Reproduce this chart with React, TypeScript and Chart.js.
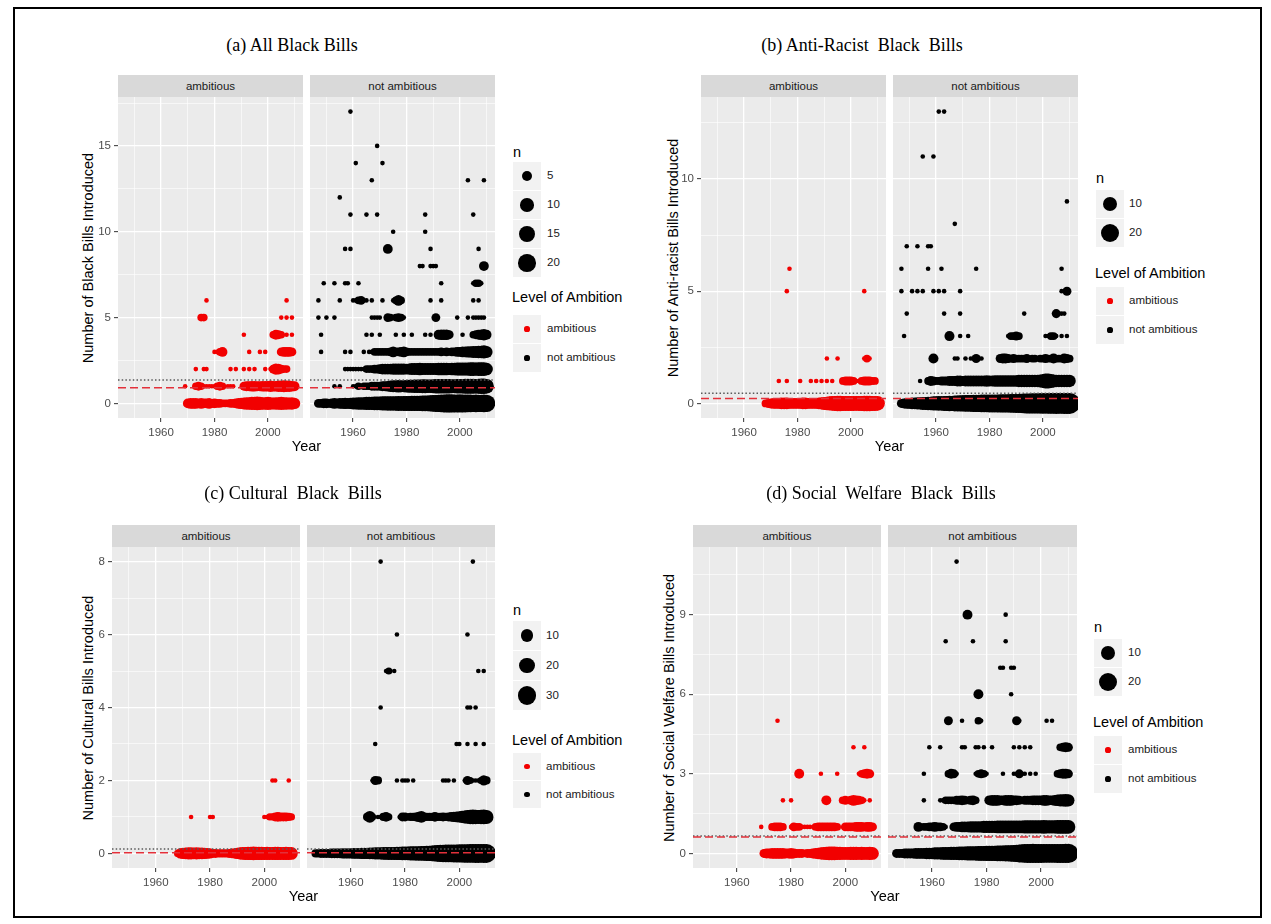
import React, { useEffect, useRef } from "react";
import { Chart, registerables } from "chart.js";

Chart.register(...registerables);

// Row = [number of bills introduced, first year, number of legislators (n) for consecutive years; 0 = no point]
type Row = [number, number, number[]];

// ---------------- shared axis data ----------------
const yearRange = [1943.85, 2013.15];
const yearMajor = [1960, 1980, 2000];
const yearMinor = [1950, 1970, 1990, 2010];
const ambitionLevels = ["ambitious", "not ambitious"];
const facetLabels = ["ambitious", "not ambitious"];

// ---------------- (a) All Black Bills ----------------
const allAmbitious: Row[] = [
  [0, 1970, [4, 5, 5, 5, 4, 5, 4, 4, 5, 3, 4, 3, 3, 2, 2, 2, 3, 3, 4, 5, 6, 7, 8, 8, 9, 9, 10, 9, 8, 8, 9, 8, 7, 8, 8, 9, 8, 8, 7, 8, 6]],
  [1, 1969, [1]],
  [1, 1973, [2, 3, 2, 1, 1, 1, 1, 1, 2, 3, 2, 0, 1, 1, 1]],
  [1, 1991, [3, 4, 4, 5, 5, 4, 4, 5, 5, 5, 6, 5, 5, 6, 6, 7, 6, 6, 5, 4]],
  [2, 1973, [1]],
  [2, 1976, [1, 1]],
  [2, 1986, [1, 0, 1, 0, 0, 1, 0, 1, 0, 1]],
  [2, 1999, [1, 0, 1, 3, 6, 5, 3, 2, 2]],
  [3, 1980, [1, 1, 2, 4]],
  [3, 1993, [1]],
  [3, 1997, [1, 0, 1]],
  [3, 2005, [3, 4, 4, 4, 3]],
  [4, 1991, [1]],
  [4, 2002, [2, 4, 3, 2, 0, 1, 0, 1]],
  [5, 1975, [2, 2]],
  [5, 2005, [1, 0, 1, 0, 1]],
  [6, 1977, [1]],
  [6, 2007, [1]],
];
const allNotAmbitious: Row[] = [
  [0, 1947, [3, 3, 4, 4, 3, 4, 5, 4, 5, 5, 6, 5, 6, 7, 7, 8, 8, 8, 9, 9, 9, 10, 10, 10, 11, 11, 12, 12, 12, 12, 13, 12, 13, 13, 13, 14, 14, 14, 14, 15, 15, 15, 16, 17, 18, 19, 20, 21, 22, 22, 22, 21, 21, 22, 21, 21, 20, 20, 19, 20, 19, 19, 20, 19]],
  [1, 1953, [1, 0, 1]],
  [1, 1960, [1, 1, 2, 1, 2, 2, 2, 3, 3, 3, 3, 4, 4, 5, 6, 7, 7, 8, 7, 7, 8, 9, 9, 10, 10, 10, 11, 11, 10, 10, 11, 12, 12, 12, 12, 12, 12, 11, 11, 12, 12, 12, 13, 13, 13, 13, 12, 13, 14, 14, 12]],
  [2, 1957, [1, 1, 1, 1, 1, 1, 1, 1, 2, 2, 2, 3, 3, 4, 5, 5, 5, 5, 6, 6, 6, 6, 6, 5, 6, 7, 7, 7, 8, 7, 7, 7, 7, 7, 7, 8, 8, 8, 8, 7, 8, 8, 9, 9, 9, 9, 9, 10, 10, 9, 10, 10, 10, 8]],
  [3, 1948, [1]],
  [3, 1957, [1, 0, 1]],
  [3, 1964, [1, 0, 1, 1, 2, 2, 2, 2, 2, 2, 3, 5, 3, 3, 4, 5, 3, 2, 2, 2, 2, 2, 2, 2, 2, 2, 2, 2, 2, 3, 2, 3, 2, 3, 3, 4, 4, 5, 5, 6, 6, 7, 7, 8, 8, 9, 7]],
  [4, 1948, [1]],
  [4, 1965, [1, 0, 1, 0, 0, 1]],
  [4, 1976, [1, 0, 0, 1, 0, 0, 1]],
  [4, 1987, [1, 0, 1, 0, 0, 4, 5, 5, 5, 3, 0, 0, 0, 0, 1, 0, 0, 0, 2, 3, 4, 5, 6, 4]],
  [5, 1947, [1, 0, 0, 1, 0, 0, 1]],
  [5, 1967, [1, 1, 1, 1, 0, 0, 3, 2, 1, 2, 3, 2, 1]],
  [5, 1991, [3]],
  [5, 1999, [1]],
  [5, 2003, [1, 0, 1, 1, 1, 1, 1]],
  [6, 1947, [1]],
  [6, 1955, [1]],
  [6, 1960, [1, 1, 2, 3, 1, 1, 0, 1]],
  [6, 1971, [1]],
  [6, 1975, [1, 2, 5, 2]],
  [6, 1989, [1]],
  [6, 1993, [1]],
  [6, 2005, [1, 0, 1]],
  [7, 1949, [1]],
  [7, 1953, [1]],
  [7, 1957, [1, 1]],
  [7, 1962, [1]],
  [7, 1993, [1]],
  [7, 2005, [1, 2, 2, 1]],
  [8, 1985, [1, 1]],
  [8, 1989, [1, 1, 1]],
  [8, 2009, [4]],
  [9, 1957, [1, 0, 1]],
  [9, 1973, [4]],
  [9, 1989, [1]],
  [9, 2007, [1]],
  [10, 1975, [1]],
  [10, 1987, [1]],
  [11, 1959, [1]],
  [11, 1965, [1]],
  [11, 1969, [1]],
  [11, 1987, [1]],
  [11, 2005, [1]],
  [12, 1955, [1]],
  [13, 1967, [1]],
  [13, 2003, [1]],
  [13, 2009, [1]],
  [14, 1961, [1]],
  [14, 1971, [1]],
  [15, 1969, [1]],
  [17, 1959, [1]],
];
const allMeans = [0.91, 1.36];
const allYRange = [-0.85, 17.85];
const allYMajor = [0, 5, 10, 15];
const allYMinor = [2.5, 7.5, 12.5, 17.5];
const allSizeBreaks = [5, 10, 15, 20];
const allMaxN = 24;

// ---------------- (b) Anti-Racist Black Bills ----------------
const antiAmbitious: Row[] = [
  [0, 1968, [2, 3, 4, 5, 5, 5, 6, 6, 6, 5, 5, 5, 5, 5, 6, 6, 5, 5, 5, 5, 6, 7, 8, 9, 10, 11, 12, 13, 13, 12, 12, 12, 12, 12, 11, 12, 12, 13, 13, 13, 12, 12, 11]],
  [1, 1973, [1, 0, 0, 1]],
  [1, 1981, [1]],
  [1, 1985, [1, 0, 1, 0, 1, 0, 1, 0, 1]],
  [1, 1997, [2, 3, 3, 3, 2, 1, 1, 2, 3, 3, 3, 2, 2]],
  [2, 1991, [1]],
  [2, 1995, [1]],
  [2, 2005, [1, 2, 1]],
  [5, 1976, [1]],
  [5, 2005, [1]],
  [6, 1977, [1]],
];
const antiNotAmbitious: Row[] = [
  [0, 1947, [3, 4, 5, 5, 6, 6, 7, 7, 8, 8, 9, 9, 10, 10, 11, 10, 12, 12, 13, 12, 14, 14, 15, 15, 16, 16, 16, 17, 17, 17, 18, 18, 18, 19, 19, 19, 19, 20, 20, 20, 20, 21, 21, 22, 22, 23, 24, 25, 25, 26, 26, 26, 26, 27, 26, 27, 27, 27, 28, 27, 27, 28, 28, 28]],
  [1, 1954, [1]],
  [1, 1957, [2, 4, 3, 2, 2, 3, 3, 3, 4, 4, 4, 5, 5, 4, 5, 5, 5, 5, 5, 5, 5, 5, 6, 5, 5, 6, 6, 6, 6, 6, 6, 6, 6, 6, 7, 7, 7, 7, 7, 7, 7, 7, 8, 9, 12, 12, 10, 8, 7, 7, 7, 7, 7, 7]],
  [2, 1959, [4]],
  [2, 1967, [1, 1]],
  [2, 1971, [1, 0, 1, 1, 3, 1, 1]],
  [2, 1984, [3, 4, 4, 3, 2, 3, 2, 2, 2, 2, 3, 1, 2, 2, 1, 2, 2, 3, 2, 2, 4, 2, 2, 2, 4, 3, 2]],
  [3, 1948, [1]],
  [3, 1965, [4]],
  [3, 1969, [1]],
  [3, 1972, [1]],
  [3, 1987, [1, 2, 2, 3, 2]],
  [3, 2001, [1, 1, 2, 2, 1, 0, 1, 0, 1]],
  [4, 1949, [1]],
  [4, 1963, [1]],
  [4, 1969, [1]],
  [4, 1993, [1]],
  [4, 2005, [3, 1, 1, 1]],
  [5, 1947, [1]],
  [5, 1951, [1, 0, 1, 0, 1]],
  [5, 1959, [1, 0, 1, 0, 1]],
  [5, 1969, [1]],
  [5, 2007, [1, 0, 3]],
  [6, 1947, [1]],
  [6, 1957, [1]],
  [6, 1962, [1]],
  [6, 1975, [1]],
  [6, 2007, [1]],
  [7, 1949, [1]],
  [7, 1953, [1]],
  [7, 1957, [1, 1]],
  [8, 1967, [1]],
  [9, 2009, [1]],
  [11, 1955, [1]],
  [11, 1959, [1]],
  [13, 1961, [1]],
  [13, 1963, [1]],
];
const antiMeans = [0.22, 0.45];
const antiYRange = [-0.65, 13.65];
const antiYMajor = [0, 5, 10];
const antiYMinor = [2.5, 7.5, 12.5];
const antiSizeBreaks = [10, 20];
const antiMaxN = 28;

// ---------------- (c) Cultural Black Bills ----------------
const culturalAmbitious: Row[] = [
  [0, 1968, [2, 6, 8, 9, 10, 10, 9, 10, 9, 9, 8, 7, 6, 4, 4, 3, 3, 3, 3, 4, 5, 6, 8, 10, 11, 12, 13, 13, 14, 13, 13, 13, 12, 13, 12, 12, 13, 13, 12, 12, 13, 12, 11]],
  [1, 1973, [1]],
  [1, 1980, [1, 1]],
  [1, 2000, [1, 1, 2, 2, 4, 5, 4, 4, 4, 3, 2]],
  [2, 2003, [1, 1]],
  [2, 2009, [1]],
];
const culturalNotAmbitious: Row[] = [
  [0, 1947, [3, 3, 4, 4, 4, 4, 5, 5, 5, 5, 6, 6, 6, 6, 7, 7, 7, 8, 8, 8, 9, 9, 10, 10, 10, 11, 11, 12, 12, 12, 13, 13, 14, 14, 14, 15, 15, 16, 16, 17, 17, 18, 19, 20, 22, 24, 26, 27, 28, 28, 28, 29, 29, 30, 30, 31, 31, 32, 32, 33, 33, 32, 33, 33]],
  [1, 1966, [3, 9, 2, 0, 1, 1, 3, 5, 2]],
  [1, 1978, [1, 4, 4, 2, 3, 3, 4, 6, 9, 4, 3, 3, 3, 5, 3, 3, 4, 3, 4, 5, 6, 7, 8, 10, 12, 14, 16, 17, 16, 15, 16, 17, 15]],
  [2, 1968, [1, 4, 3]],
  [2, 1977, [1, 0, 1, 1, 1, 0, 1]],
  [2, 1994, [1, 1, 1, 0, 1]],
  [2, 2002, [1, 4, 2, 1, 1, 1, 2, 6, 3]],
  [3, 1969, [1]],
  [3, 1999, [1, 1]],
  [3, 2003, [1, 0, 0, 1, 0, 0, 1]],
  [4, 1971, [1]],
  [4, 2003, [1, 1, 0, 1]],
  [5, 1973, [1, 2, 0, 1]],
  [5, 2007, [1, 0, 1]],
  [6, 1977, [1]],
  [6, 2003, [1]],
  [8, 1971, [1]],
  [8, 2005, [1]],
];
const culturalMeans = [0.02, 0.12];
const culturalYRange = [-0.4, 8.4];
const culturalYMajor = [0, 2, 4, 6, 8];
const culturalYMinor = [1, 3, 5, 7];
const culturalSizeBreaks = [10, 20, 30];
const culturalMaxN = 34;

// ---------------- (d) Social Welfare Black Bills ----------------
const welfareAmbitious: Row[] = [
  [0, 1970, [3, 4, 4, 5, 5, 5, 5, 5, 4, 4, 5, 4, 3, 3, 3, 2, 3, 3, 4, 5, 6, 7, 8, 9, 10, 10, 10, 9, 9, 8, 8, 8, 9, 9, 9, 8, 9, 8, 8, 9, 8]],
  [1, 1969, [1, 0, 0, 0, 2, 3, 3, 3, 2, 0, 0, 1, 3, 2, 2, 1, 1, 1, 1, 0, 2, 3, 3, 3, 3, 3, 3, 3, 2, 0, 0, 3, 3, 3, 3, 4, 4, 4, 3, 4, 4, 3]],
  [2, 1977, [1, 0, 0, 1]],
  [2, 1993, [4]],
  [2, 1999, [2, 3, 2, 3, 5, 4, 3, 2, 1, 0, 1]],
  [3, 1983, [4]],
  [3, 1991, [1]],
  [3, 1997, [1]],
  [3, 2005, [1, 2, 3, 4, 3]],
  [4, 2003, [1]],
  [4, 2007, [1]],
  [5, 1975, [1]],
];
const welfareNotAmbitious: Row[] = [
  [0, 1947, [3, 3, 3, 4, 4, 4, 4, 5, 5, 5, 5, 6, 6, 6, 7, 7, 7, 8, 8, 8, 9, 9, 9, 10, 10, 10, 11, 11, 11, 11, 12, 12, 12, 13, 13, 13, 13, 14, 14, 14, 15, 15, 16, 17, 18, 20, 21, 22, 23, 23, 24, 23, 23, 23, 22, 22, 22, 22, 22, 23, 23, 23, 24, 24]],
  [1, 1955, [4, 0, 2, 2, 3, 3, 4, 3, 3, 2, 1]],
  [1, 1968, [3, 4, 4, 5, 5, 5, 6, 6, 6, 6, 6, 7, 7, 7, 7, 7, 8, 8, 8, 8, 8, 8, 8, 8, 8, 8, 9, 9, 9, 9, 9, 9, 9, 10, 9, 9, 9, 9, 10, 10, 10, 10, 10]],
  [2, 1957, [1]],
  [2, 1963, [1, 1, 2, 2, 2, 2, 3, 3, 4, 3, 2, 3, 4, 2]],
  [2, 1981, [4, 5, 5, 5, 4, 4, 5, 5, 5, 4, 4, 3, 2, 3, 3, 3, 4, 4, 4, 4, 5, 5, 4, 4, 5, 6, 7, 7, 8, 7]],
  [3, 1957, [1]],
  [3, 1966, [2, 4, 3, 1]],
  [3, 1976, [1, 2, 3, 2, 1]],
  [3, 1986, [1]],
  [3, 1990, [1, 1, 3, 1, 1, 0, 1, 0, 1]],
  [3, 2006, [2, 3, 4, 4, 3]],
  [4, 1959, [1]],
  [4, 1963, [1]],
  [4, 1971, [1, 1]],
  [4, 1976, [1, 1, 0, 1]],
  [4, 1982, [1]],
  [4, 1990, [1, 0, 1, 0, 1, 0, 1]],
  [4, 2007, [2, 3, 4, 3]],
  [5, 1966, [3]],
  [5, 1971, [1]],
  [5, 1977, [2, 1]],
  [5, 1991, [3, 1]],
  [5, 2002, [1, 0, 1]],
  [6, 1977, [4]],
  [6, 1989, [1]],
  [7, 1985, [1, 1]],
  [7, 1989, [1, 1]],
  [8, 1965, [1]],
  [8, 1975, [1]],
  [8, 1987, [1]],
  [9, 1973, [4]],
  [9, 1987, [1]],
  [11, 1969, [1]],
];
const welfareMeans = [0.62, 0.66];
const welfareYRange = [-0.55, 11.55];
const welfareYMajor = [0, 3, 6, 9];
const welfareYMinor = [1.5, 4.5, 7.5, 10.5];
const welfareSizeBreaks = [10, 20];
const welfareMaxN = 26;

// ---------------- styling / layout ----------------
const SANS = '"Liberation Sans", Arial, Helvetica, sans-serif';
const SERIF = '"Liberation Serif", "Times New Roman", serif';
const COLORS = ["#F20000", "#000000"];
const Y_AXIS_W = 30;
const X_AXIS_H = 26;
const KEY_W = 28;

function bubbleRadius(n: number, maxN: number, range: number[]) {
  return range[0] + (range[1] - range[0]) * Math.sqrt(Math.max(0, n - 1) / (maxN - 1));
}

const panels = [
  {
    id: "a", title: "(a) All Black Bills", yTitle: "Number of Black Bills Introduced",
    rows: [allAmbitious, allNotAmbitious], means: allMeans, yRange: allYRange, yMajor: allYMajor, yMinor: allYMinor,
    sizeBreaks: allSizeBreaks, maxN: allMaxN, radius: [2.3, 9.5],
    layout: {
      titleX: 292, titleY: 45, yTitleX: 88, stripTop: 75, plotTop: 97, plotBottom: 418,
      facetX: [[118, 303], [310, 495]],
      legend: { x: 513, labelX: 547, nTitleY: 152, keyTop: 162, keyH: 28, loaY: 297, catTop: 315, catH: 28 },
    },
  },
  {
    id: "b", title: "(b) Anti-Racist  Black  Bills", yTitle: "Number of Anti-racist Bills Introduced",
    rows: [antiAmbitious, antiNotAmbitious], means: antiMeans, yRange: antiYRange, yMajor: antiYMajor, yMinor: antiYMinor,
    sizeBreaks: antiSizeBreaks, maxN: antiMaxN, radius: [2.3, 10.5],
    layout: {
      titleX: 862, titleY: 45, yTitleX: 673, stripTop: 75, plotTop: 97, plotBottom: 418,
      facetX: [[701, 886], [893, 1078]],
      legend: { x: 1096, labelX: 1129, nTitleY: 178, keyTop: 190, keyH: 28, loaY: 273, catTop: 287, catH: 28 },
    },
  },
  {
    id: "c", title: "(c) Cultural  Black  Bills", yTitle: "Number of Cultural Bills Introduced",
    rows: [culturalAmbitious, culturalNotAmbitious], means: culturalMeans, yRange: culturalYRange, yMajor: culturalYMajor, yMinor: culturalYMinor,
    sizeBreaks: culturalSizeBreaks, maxN: culturalMaxN, radius: [2.3, 9.6],
    layout: {
      titleX: 293, titleY: 493, yTitleX: 88, stripTop: 525, plotTop: 547, plotBottom: 868,
      facetX: [[112, 300], [307, 495]],
      legend: { x: 513, labelX: 546, nTitleY: 610, keyTop: 621, keyH: 29, loaY: 740, catTop: 753, catH: 27 },
    },
  },
  {
    id: "d", title: "(d) Social  Welfare  Black  Bills", yTitle: "Number of Social Welfare Bills Introduced",
    rows: [welfareAmbitious, welfareNotAmbitious], means: welfareMeans, yRange: welfareYRange, yMajor: welfareYMajor, yMinor: welfareYMinor,
    sizeBreaks: welfareSizeBreaks, maxN: welfareMaxN, radius: [2.3, 10.0],
    layout: {
      titleX: 881, titleY: 493, yTitleX: 669, stripTop: 525, plotTop: 547, plotBottom: 868,
      facetX: [[693, 881], [888, 1077]],
      legend: { x: 1094, labelX: 1128, nTitleY: 627, keyTop: 639, keyH: 28, loaY: 722, catTop: 736, catH: 28 },
    },
  },
];

const panelBackground = {
  id: "panelBackground",
  beforeDraw(chart: any) {
    const { ctx, chartArea: a } = chart;
    ctx.save();
    ctx.fillStyle = "#EBEBEB";
    ctx.fillRect(a.left, a.top, a.right - a.left, a.bottom - a.top);
    ctx.restore();
  },
};

function Label(props: any) {
  const { x, y, text, size, font = SANS, color = "#000", anchor = "center", rotate = 0 } = props;
  const tx = anchor === "center" ? "-50%" : "0";
  return (
    <div
      style={{
        position: "absolute", left: x, top: y, whiteSpace: "pre", fontFamily: font, fontSize: size,
        color, lineHeight: 1, transform: `translate(${tx}, -50%) rotate(${rotate}deg)`,
      }}
    >
      {text}
    </div>
  );
}

function Facet(props: any) {
  const { rows, color, means, yRange, yMajor, yMinor, maxN, radius, left, right, stripTop, plotTop, plotBottom, showY } = props;
  const ref = useRef<HTMLCanvasElement>(null);
  const yW = showY ? Y_AXIS_W : 0;
  const w = right - left + yW;
  const h = plotBottom - stripTop + X_AXIS_H;

  useEffect(() => {
    const points: any[] = [];
    rows.forEach(([v, y0, counts]: Row) => {
      counts.forEach((n, i) => {
        if (n > 0) points.push({ x: y0 + i, y: v, r: bubbleRadius(n, maxN, radius) });
      });
    });
    const xTicks = [...yearMajor, ...yearMinor].sort((a, b) => a - b);
    const yTicks = [...yMajor, ...yMinor].sort((a, b) => a - b);
    const majX = (v: number) => yearMajor.includes(v);
    const majY = (v: number) => yMajor.includes(v);
    const line = (v: number) => [{ x: yearRange[0], y: v }, { x: yearRange[1], y: v }];

    const chart = new Chart(ref.current as HTMLCanvasElement, {
      type: "bubble",
      data: {
        datasets: [
          { type: "line", data: line(means[0]), borderColor: "#E3303A", borderWidth: 1.4, borderDash: [8, 4], pointRadius: 0, fill: false, order: 0, clip: 0 } as any,
          { type: "line", data: line(means[1]), borderColor: "#5A5A5A", borderWidth: 1.5, borderDash: [1.5, 2.2], pointRadius: 0, fill: false, order: 0, clip: 0 } as any,
          { data: points, backgroundColor: color, borderWidth: 0, hoverRadius: 0, order: 1, clip: 0 } as any,
        ],
      },
      options: {
        responsive: false,
        maintainAspectRatio: false,
        animation: false,
        devicePixelRatio: 1,
        events: [],
        layout: { autoPadding: false, padding: { top: plotTop - stripTop, left: 0, right: 0, bottom: 0 } },
        plugins: { legend: { display: false }, tooltip: { enabled: false } },
        scales: {
          x: {
            type: "linear", min: yearRange[0], max: yearRange[1],
            afterBuildTicks: (s: any) => { s.ticks = xTicks.map((v) => ({ value: v })); },
            afterFit: (s: any) => { s.height = X_AXIS_H; s.paddingLeft = 0; s.paddingRight = 0; },
            ticks: {
              callback: (v: any) => (majX(v) ? String(v) : ""),
              color: "#4D4D4D", font: { family: SANS, size: 11.5 }, padding: 4, maxRotation: 0, minRotation: 0, autoSkip: false,
            },
            grid: {
              color: "#FFFFFF",
              lineWidth: (c: any) => (c.tick && majX(c.tick.value) ? 1.3 : 0.6),
              tickColor: (c: any) => (c.tick && majX(c.tick.value) ? "#333333" : "rgba(0,0,0,0)"),
              tickLength: 4, tickWidth: 1, drawTicks: true,
            },
            border: { display: false },
          },
          y: {
            type: "linear", min: yRange[0], max: yRange[1],
            afterBuildTicks: (s: any) => { s.ticks = yTicks.map((v) => ({ value: v })); },
            afterFit: (s: any) => { s.width = yW; s.paddingTop = 0; s.paddingBottom = 0; },
            ticks: {
              display: showY,
              callback: (v: any) => (majY(v) ? String(v) : ""),
              color: "#4D4D4D", font: { family: SANS, size: 11.5 }, padding: 3, autoSkip: false,
            },
            grid: {
              color: "#FFFFFF",
              lineWidth: (c: any) => (c.tick && majY(c.tick.value) ? 1.3 : 0.6),
              tickColor: (c: any) => (c.tick && majY(c.tick.value) ? "#333333" : "rgba(0,0,0,0)"),
              tickLength: 4, tickWidth: 1, drawTicks: showY,
            },
            border: { display: false },
          },
        },
      } as any,
      plugins: [panelBackground],
    } as any);
    return () => chart.destroy();
  }, []);

  return (
    <canvas
      ref={ref}
      width={w}
      height={h}
      style={{ position: "absolute", left: left - yW, top: stripTop, width: w, height: h }}
    />
  );
}

function Legend(props: any) {
  const { spec, sizeBreaks, maxN, radius } = props;
  const { x, labelX, nTitleY, keyTop, keyH, loaY, catTop, catH } = spec;
  return (
    <>
      <Label x={x} y={nTitleY} text="n" size={14.5} anchor="left" />
      {sizeBreaks.map((n: number, i: number) => {
        const top = keyTop + i * (keyH + 1);
        const r = bubbleRadius(n, maxN, radius);
        return (
          <React.Fragment key={"s" + n}>
            <div style={{ position: "absolute", left: x, top, width: KEY_W, height: keyH, background: "#F2F2F2" }} />
            <div style={{ position: "absolute", left: x + KEY_W / 2 - r, top: top + keyH / 2 - r, width: 2 * r, height: 2 * r, borderRadius: "50%", background: "#000" }} />
            <Label x={labelX} y={top + keyH / 2} text={String(n)} size={11.5} anchor="left" color="#1A1A1A" />
          </React.Fragment>
        );
      })}
      <Label x={x - 1} y={loaY} text="Level of Ambition" size={14.5} anchor="left" />
      {ambitionLevels.map((lvl, i) => {
        const top = catTop + i * (catH + 1);
        const r = 2.6;
        return (
          <React.Fragment key={lvl}>
            <div style={{ position: "absolute", left: x, top, width: KEY_W, height: catH, background: "#F2F2F2" }} />
            <div style={{ position: "absolute", left: x + KEY_W / 2 - r, top: top + catH / 2 - r, width: 2 * r, height: 2 * r, borderRadius: "50%", background: COLORS[i] }} />
            <Label x={labelX} y={top + catH / 2} text={lvl} size={11.5} anchor="left" color="#1A1A1A" />
          </React.Fragment>
        );
      })}
    </>
  );
}

function Panel({ p }: any) {
  const L = p.layout;
  const plotMidY = (L.plotTop + L.plotBottom) / 2;
  const plotMidX = (L.facetX[0][0] + L.facetX[1][1]) / 2;
  return (
    <>
      <Label x={L.titleX} y={L.titleY} text={p.title} size={18} font={SERIF} />
      <Label x={L.yTitleX} y={plotMidY} text={p.yTitle} size={14.5} rotate={-90} />
      {L.facetX.map((fx: number[], i: number) => (
        <React.Fragment key={i}>
          <Facet
            rows={p.rows[i]} color={COLORS[i]} means={p.means} yRange={p.yRange} yMajor={p.yMajor} yMinor={p.yMinor}
            maxN={p.maxN} radius={p.radius} left={fx[0]} right={fx[1]} stripTop={L.stripTop} plotTop={L.plotTop} plotBottom={L.plotBottom}
            showY={i === 0}
          />
          <div
            style={{
              position: "absolute", left: fx[0], top: L.stripTop, width: fx[1] - fx[0], height: L.plotTop - L.stripTop,
              background: "#D9D9D9", color: "#1A1A1A", fontFamily: SANS, fontSize: 11.5,
              display: "flex", alignItems: "center", justifyContent: "center",
            }}
          >
            {facetLabels[i]}
          </div>
        </React.Fragment>
      ))}
      <Label x={plotMidX} y={L.plotBottom + 28} text="Year" size={14.5} />
      <Legend spec={L.legend} sizeBreaks={p.sizeBreaks} maxN={p.maxN} radius={p.radius} />
    </>
  );
}

export default function App() {
  return (
    <div style={{ position: "absolute", left: 0, top: 0, width: 1271, height: 924, background: "#FFFFFF", overflow: "hidden" }}>
      <div style={{ position: "absolute", left: 13, top: 7, width: 1249, height: 911, border: "2px solid #000", boxSizing: "border-box" }} />
      {panels.map((p) => (
        <Panel key={p.id} p={p} />
      ))}
    </div>
  );
}
